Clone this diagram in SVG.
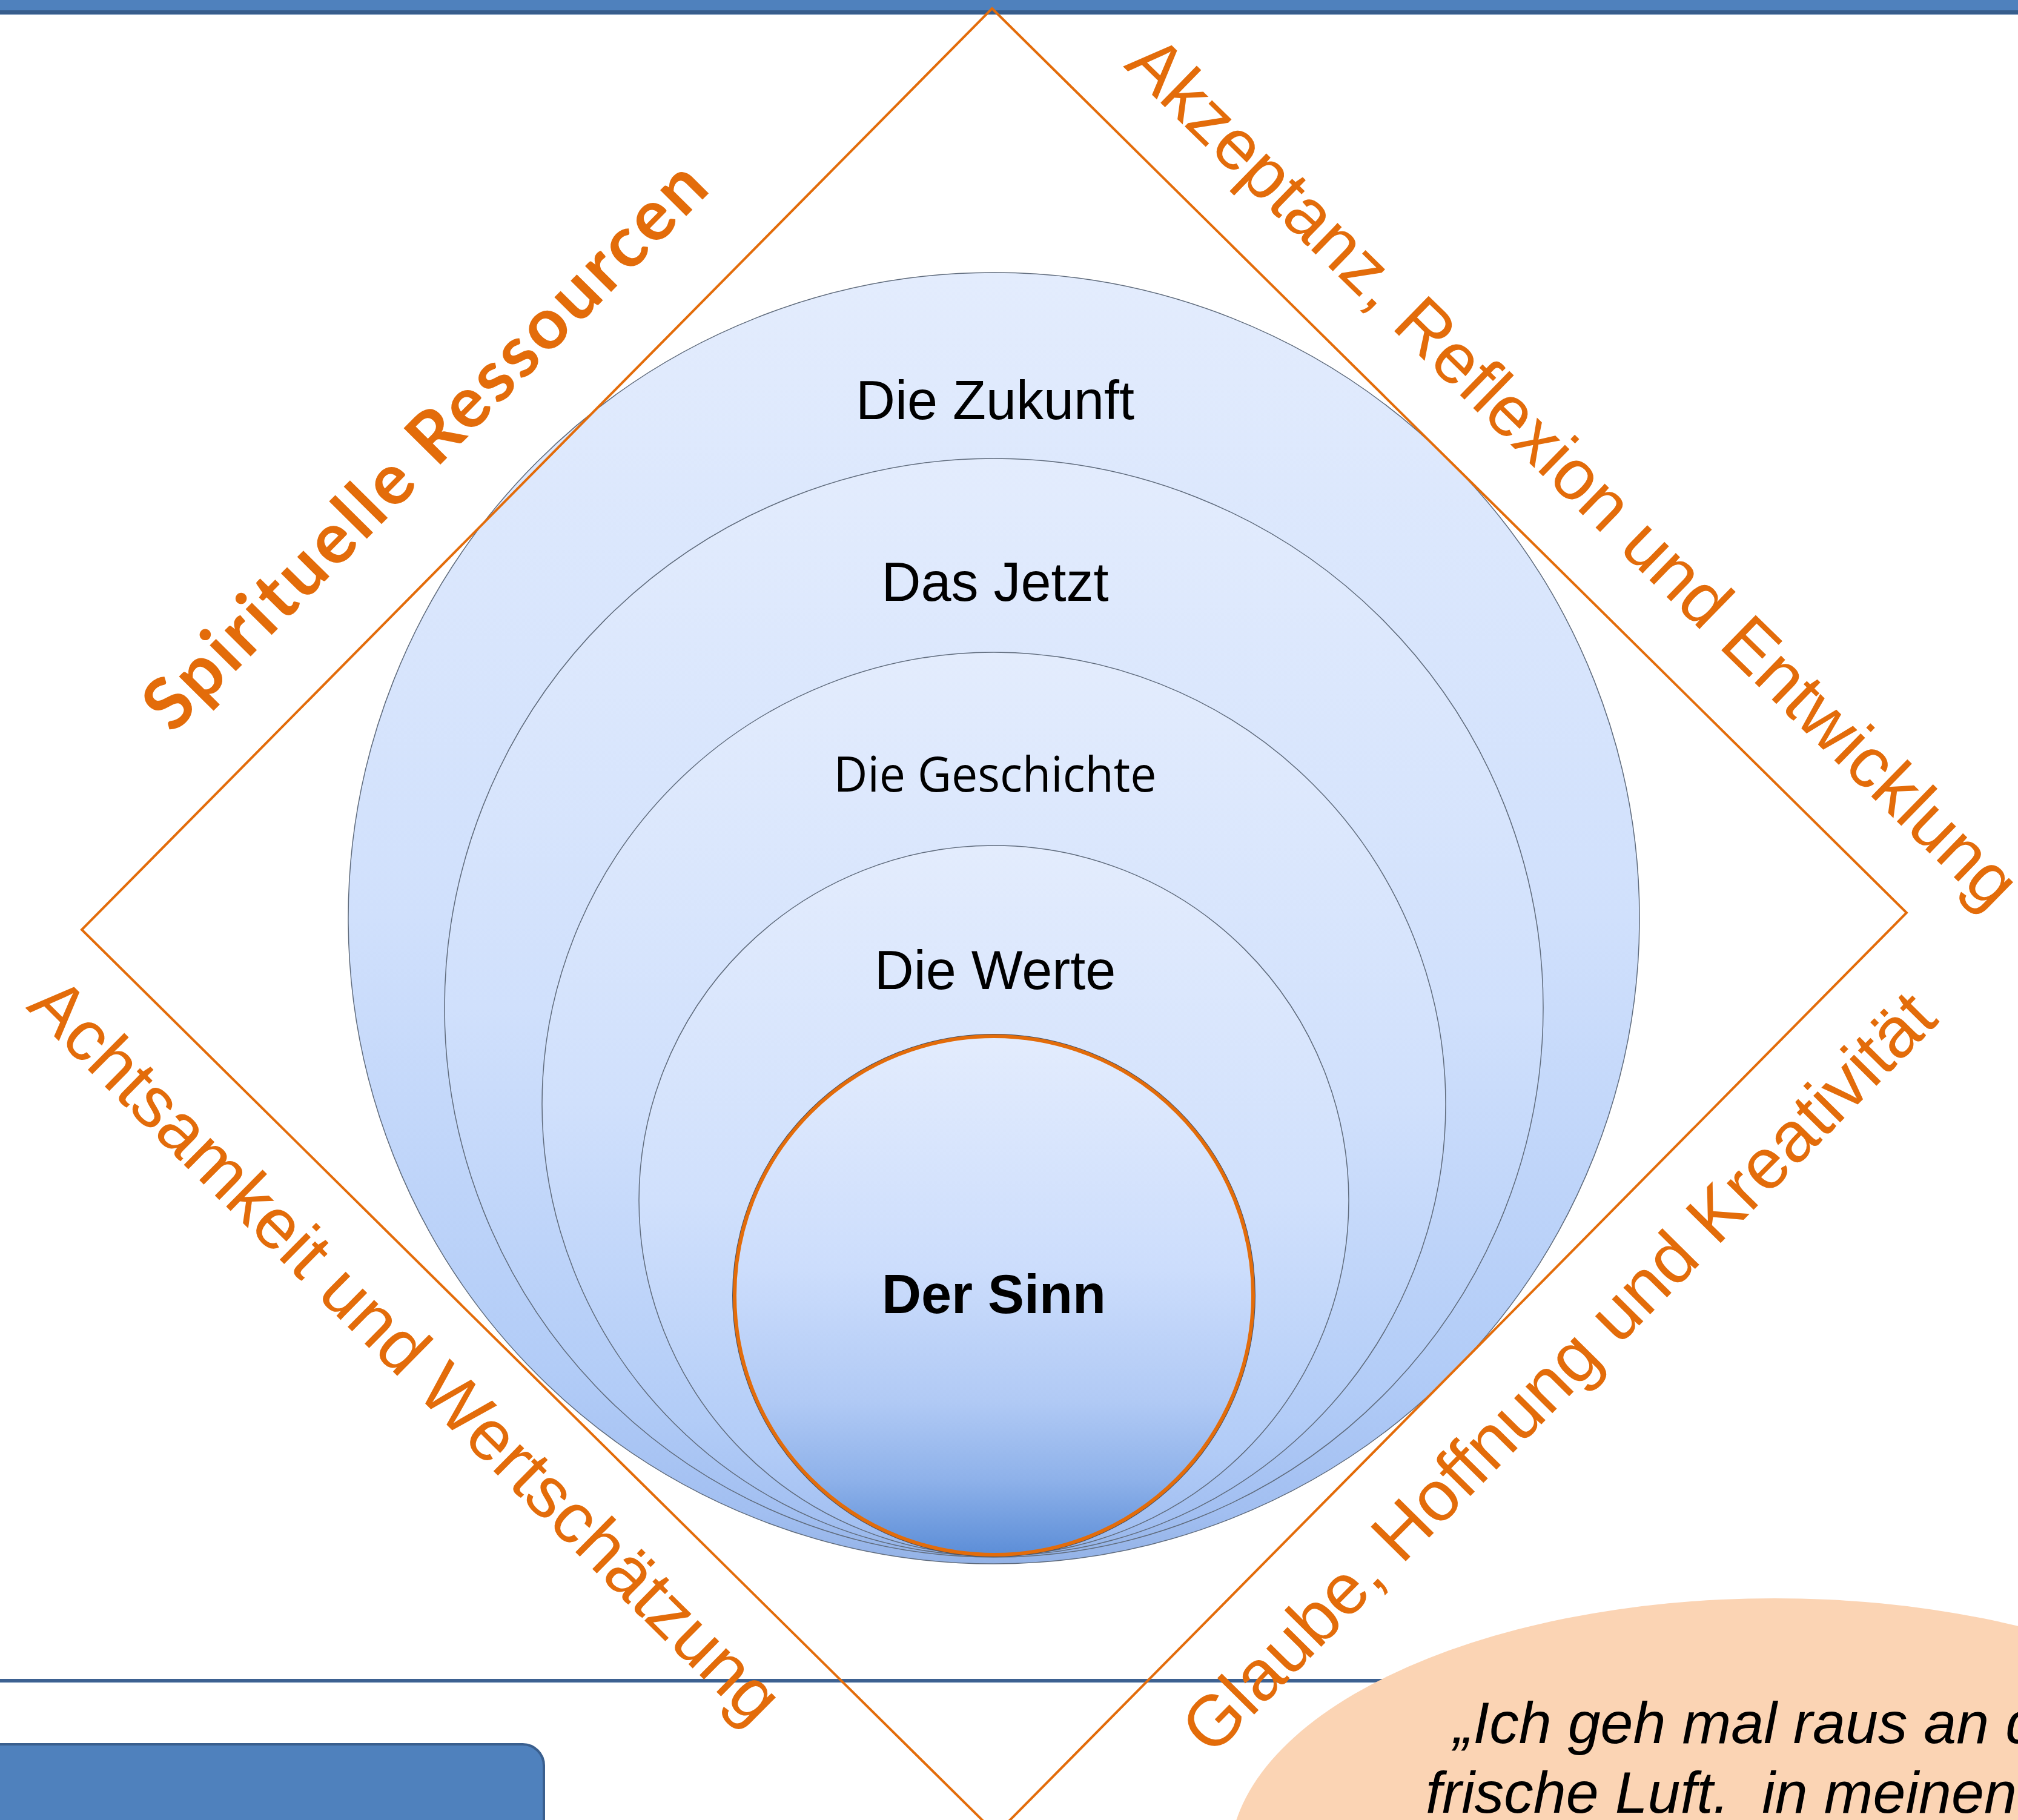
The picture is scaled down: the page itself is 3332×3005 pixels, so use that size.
<svg xmlns="http://www.w3.org/2000/svg" width="3332" height="3005" viewBox="0 0 3332 3005">
<defs>
<linearGradient id="gOuter" x1="0" y1="0" x2="0" y2="1">
<stop offset="0" stop-color="#E3ECFD"/>
<stop offset="0.5" stop-color="#D0E0FC"/>
<stop offset="0.85" stop-color="#B2CCF7"/>
<stop offset="0.96" stop-color="#A2BFF1"/>
<stop offset="1" stop-color="#93B2E6"/>
</linearGradient>
<linearGradient id="gSinn" x1="0" y1="0" x2="0" y2="1">
<stop offset="0" stop-color="#E3ECFD"/>
<stop offset="0.45" stop-color="#CCDDFC"/>
<stop offset="0.7" stop-color="#B1CAF5"/>
<stop offset="0.85" stop-color="#8FB2EA"/>
<stop offset="1" stop-color="#5B8DD7"/>
</linearGradient>
<style>
.ring{fill:url(#gOuter);stroke:#5F6B7C;stroke-width:1.5}
.lbl{font-family:"Liberation Sans",Arial,sans-serif;font-size:90px;fill:#000;text-anchor:middle}
.side{font-family:"Liberation Sans",Arial,sans-serif;font-size:118px;fill:#E36C0A;text-anchor:middle}
.orange{fill:none;stroke:#E36C0A;stroke-width:4;stroke-linejoin:miter}
.quote{font-family:"Liberation Sans",Arial,sans-serif;font-size:97px;font-style:italic;fill:#000;white-space:pre}
</style>
</defs>
<rect width="3332" height="3005" fill="#FFFFFF"/>
<g id="header">
<rect x="-10" y="-10" width="3352" height="27" fill="#4F81BD"/>
<rect x="-10" y="17" width="3352" height="6" fill="#375D8C"/>
<rect x="-10" y="23" width="3352" height="1.5" fill="#6F8DB3"/>
</g>
<g id="divider">
<rect x="-10" y="2772" width="3352" height="5" fill="#3D6191"/>
<rect x="-10" y="2777" width="3352" height="1.5" fill="#7D97BA"/>
</g>
<g id="blue-box">
<rect x="-40" y="2880" width="938" height="200" rx="35" ry="35" fill="#4F81BD" stroke="#3A5F8E" stroke-width="4"/>
</g>
<g id="circle-zukunft">
<circle class="ring" cx="1641" cy="1516" r="1066"/>
<text class="lbl" x="1643" y="692">Die Zukunft</text>
</g>
<g id="circle-jetzt">
<circle class="ring" cx="1641" cy="1664" r="907"/>
<text class="lbl" x="1643" y="992">Das Jetzt</text>
</g>
<g id="circle-geschichte">
<circle class="ring" cx="1641" cy="1823" r="746"/>
<text x="1643" y="1307" font-family="'Open Sans','Noto Sans',sans-serif" font-size="81" fill="#000" text-anchor="middle" textLength="533" lengthAdjust="spacingAndGlyphs">Die Geschichte</text>
</g>
<g id="circle-werte">
<circle class="ring" cx="1641" cy="1982" r="586"/>
<text class="lbl" x="1643" y="1633">Die Werte</text>
</g>
<g id="circle-sinn">
<circle cx="1641" cy="2139" r="431" fill="url(#gSinn)" stroke="#4A5160" stroke-width="2"/>
<circle cx="1641" cy="2139" r="428" fill="none" stroke="#E36C0A" stroke-width="6"/>
<text class="lbl" x="1641" y="2168" font-weight="bold">Der Sinn</text>
</g>
<g id="diamond">
<polygon class="orange" points="1638,14 3148,1507 1645,3028 135,1535"/>
</g>
<g id="label-spirituelle">
<text transform="translate(730,764) rotate(-45.3)" x="0" y="0" font-family="Lato,'Open Sans',sans-serif" font-weight="bold" font-size="118" fill="#E36C0A" text-anchor="middle" textLength="1265" lengthAdjust="spacing">Spirituelle Ressourcen</text>
</g>
<g id="label-akzeptanz">
<text class="side" transform="translate(2570,808) rotate(44.3)" x="0" y="0">Akzeptanz, Reflexion und Entwicklung</text>
</g>
<g id="label-achtsamkeit">
<text class="side" transform="translate(642,2258) rotate(44.7)" x="0" y="0">Achtsamkeit und Wertschätzung</text>
</g>
<g id="label-glaube">
<text class="side" transform="translate(2602,2294) rotate(-45.3)" x="0" y="0">Glaube, Hoffnung und Kreativität</text>
</g>
<g id="quote-bubble">
<ellipse cx="2930" cy="3074" rx="900" ry="435" fill="#FBD4B4"/>
<text class="quote" x="2400" y="2878" xml:space="preserve">„Ich geh mal raus an d</text>
<text class="quote" x="2354" y="2993" xml:space="preserve">frische Luft.  in meinen</text>
</g>
<g id="connectors"/>
</svg>
